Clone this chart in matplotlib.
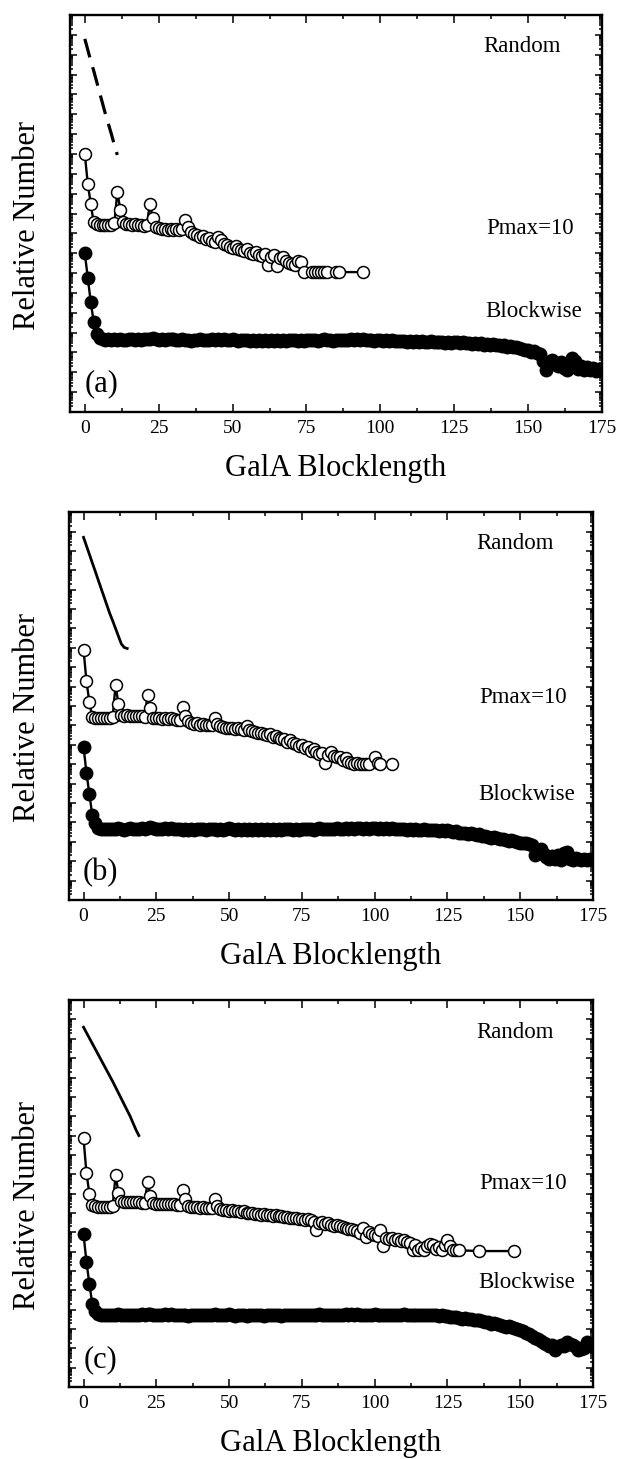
import numpy as np
import matplotlib
matplotlib.use("Agg")
import matplotlib.pyplot as plt
from matplotlib.ticker import LogLocator, MultipleLocator, NullFormatter

plt.rcParams['font.family'] = ['Liberation Serif', 'DejaVu Serif']

# values are log10 of the relative number (axis spans 20 decades, no labels)

# ---- panel (a)
rnd_a_x = [0, 1, 2, 3, 4, 5, 6, 7, 8, 9, 10, 11]
rnd_a_y = [18.8, 18.25, 17.7, 17.2, 16.65, 16.1, 15.55, 15.0, 14.5, 14.0, 13.45, 12.95]

pm_a_x = list(range(0, 75)) + [77, 78, 79, 80, 81, 82, 85, 86, 94]
pm_a_y = [13.0, 11.5, 10.5, 9.55, 9.45, 9.42, 9.40, 9.40, 9.42, 9.40,
          9.50, 11.1, 10.2, 9.55, 9.48, 9.45, 9.42, 9.45, 9.40, 9.42,
          9.38, 9.40, 10.5, 9.75, 9.30, 9.25, 9.20, 9.22, 9.18, 9.20,
          9.15, 9.20, 9.18, 9.20, 9.66, 9.30, 9.05, 8.95, 8.90, 8.80,
          8.85, 8.70, 8.75, 8.60, 8.55, 8.80, 8.65, 8.45, 8.40, 8.30,
          8.25, 8.35, 8.20, 8.15, 8.10, 8.20, 8.00, 7.95, 8.05, 7.90,
          7.85, 7.95, 7.40, 7.80, 7.90, 7.35, 7.75, 7.80, 7.60, 7.50,
          7.45, 7.40, 7.60, 7.56, 7.05,
          7.05, 7.05, 7.05, 7.05, 7.05, 7.05, 7.05, 7.05, 7.05]

blk_x = list(range(0, 176))
blk_a_y = [8.00, 6.76, 5.55, 4.54, 3.95, 3.72, 3.66, 3.62, 3.66, 3.63,
           3.66, 3.64, 3.68, 3.65, 3.62, 3.66, 3.67, 3.64, 3.66, 3.65,
           3.68, 3.66, 3.70, 3.74, 3.68, 3.65, 3.67, 3.63, 3.68, 3.66,
           3.70, 3.65, 3.63, 3.66, 3.61, 3.65, 3.60, 3.64, 3.61, 3.66,
           3.62, 3.65, 3.61, 3.66, 3.63, 3.67, 3.62, 3.66, 3.61, 3.65,
           3.68, 3.63, 3.60, 3.64, 3.61, 3.65, 3.59, 3.63, 3.60, 3.64,
           3.60, 3.62, 3.58, 3.63, 3.60, 3.64, 3.59, 3.62, 3.58, 3.63,
           3.61, 3.64, 3.60, 3.62, 3.59, 3.63, 3.61, 3.65, 3.62, 3.60,
           3.63, 3.66, 3.62, 3.64, 3.60, 3.63, 3.61, 3.65, 3.62, 3.64,
           3.66, 3.63, 3.68, 3.64, 3.70, 3.65, 3.62, 3.64, 3.60, 3.63,
           3.61, 3.60, 3.63, 3.58, 3.61, 3.57, 3.60, 3.56, 3.59, 3.55,
           3.58, 3.54, 3.57, 3.53, 3.58, 3.55, 3.52, 3.56, 3.53, 3.55,
           3.52, 3.55, 3.50, 3.54, 3.49, 3.52, 3.55, 3.50, 3.53, 3.48,
           3.50, 3.45, 3.48, 3.43, 3.46, 3.40, 3.44, 3.38, 3.42, 3.36,
           3.38, 3.33, 3.36, 3.30, 3.33, 3.26, 3.30, 3.22, 3.18, 3.12,
           3.10, 3.02, 3.06, 2.95, 2.90, 2.55, 2.12, 2.35, 2.60, 2.45,
           2.30, 2.50, 2.20, 2.10, 2.40, 2.70, 2.55, 2.15, 2.30, 2.10,
           2.25, 2.10, 2.20, 2.05, 2.15, 2.10]

# ---- panel (b)
rnd_b_x = [0, 1, 2, 3, 4, 5, 6, 7, 8, 9, 10, 11, 12, 13, 14, 15]
rnd_b_y = [18.7, 18.26, 17.83, 17.39, 16.96, 16.52, 16.08, 15.65, 15.21, 14.78,
           14.4, 14.0, 13.6, 13.2, 13.02, 12.97]

pm_b_x = list(range(0, 99)) + [100, 101, 102, 106]
pm_b_y = [12.9, 11.3, 10.2, 9.45, 9.40, 9.38, 9.40, 9.37, 9.36, 9.38,
          9.42, 11.1, 10.1, 9.55, 9.50, 9.52, 9.48, 9.50, 9.47, 9.50,
          9.48, 9.45, 10.57, 9.90, 9.40, 9.38, 9.36, 9.35, 9.38, 9.34,
          9.36, 9.33, 9.30, 9.28, 9.97, 9.50, 9.25, 9.15, 9.10, 9.12,
          9.05, 9.10, 9.02, 9.05, 9.00, 9.36, 9.10, 8.95, 8.90, 8.88,
          8.85, 8.86, 8.82, 8.85, 8.80, 8.78, 8.95, 8.75, 8.70, 8.65,
          8.60, 8.62, 8.55, 8.50, 8.55, 8.40, 8.45, 8.35, 8.30, 8.32,
          8.15, 8.25, 8.10, 8.05, 7.95, 8.00, 7.85, 7.90, 7.70, 7.80,
          7.65, 7.55, 7.60, 7.04, 7.50, 7.65, 7.45, 7.35, 7.40, 7.20,
          7.30, 7.10, 7.05, 7.00, 7.05, 7.00, 7.00, 7.02, 7.00,
          7.40, 7.05, 7.00, 7.00]

blk_b_y = [7.90, 6.56, 5.46, 4.38, 3.95, 3.74, 3.68, 3.64, 3.67, 3.65,
           3.68, 3.66, 3.70, 3.66, 3.63, 3.67, 3.69, 3.65, 3.67, 3.66,
           3.69, 3.67, 3.72, 3.75, 3.69, 3.66, 3.68, 3.64, 3.69, 3.67,
           3.71, 3.66, 3.64, 3.67, 3.63, 3.66, 3.62, 3.65, 3.63, 3.67,
           3.64, 3.66, 3.62, 3.67, 3.64, 3.68, 3.63, 3.67, 3.62, 3.66,
           3.69, 3.64, 3.62, 3.66, 3.63, 3.66, 3.61, 3.65, 3.62, 3.66,
           3.63, 3.65, 3.61, 3.66, 3.63, 3.67, 3.62, 3.65, 3.61, 3.66,
           3.64, 3.67, 3.63, 3.65, 3.62, 3.66, 3.64, 3.68, 3.65, 3.63,
           3.66, 3.69, 3.65, 3.67, 3.64, 3.67, 3.65, 3.69, 3.66, 3.68,
           3.70, 3.67, 3.72, 3.68, 3.74, 3.69, 3.67, 3.70, 3.66, 3.69,
           3.72, 3.68, 3.71, 3.67, 3.70, 3.66, 3.69, 3.65, 3.68, 3.64,
           3.67, 3.63, 3.66, 3.62, 3.66, 3.63, 3.60, 3.64, 3.61, 3.63,
           3.60, 3.62, 3.58, 3.61, 3.57, 3.60, 3.56, 3.52, 3.54, 3.48,
           3.45, 3.47, 3.42, 3.44, 3.38, 3.35, 3.38, 3.32, 3.30, 3.26,
           3.22, 3.25, 3.18, 3.14, 3.16, 3.10, 3.06, 3.08, 3.02, 2.98,
           2.95, 2.92, 2.96, 2.90, 2.85, 2.30, 2.55, 2.62, 2.40, 2.20,
           2.10, 2.25, 2.12, 2.30, 2.08, 2.45, 2.50, 2.10, 2.05, 2.15,
           2.10, 2.05, 2.12, 2.08, 2.10, 2.10]

# ---- panel (c)
rnd_c_x = [0, 1, 2, 3, 4, 5, 6, 7, 8, 9, 10, 11, 12, 13, 14, 15, 16, 17, 18, 19]
rnd_c_y = [18.6, 18.32, 18.04, 17.76, 17.48, 17.2, 16.92, 16.64, 16.36, 16.08,
           15.8, 15.5, 15.2, 14.9, 14.6, 14.3, 14.0, 13.65, 13.3, 13.0]

pm_c_x = list(range(0, 130)) + [136, 148]
pm_c_y = [12.85, 11.07, 10.0, 9.40, 9.34, 9.32, 9.33, 9.30, 9.32, 9.30,
          9.35, 10.95, 10.05, 9.60, 9.55, 9.57, 9.56, 9.58, 9.55, 9.57,
          9.54, 9.52, 10.6, 9.90, 9.50, 9.48, 9.47, 9.46, 9.48, 9.45,
          9.46, 9.44, 9.42, 9.40, 10.17, 9.74, 9.35, 9.32, 9.30, 9.30,
          9.28, 9.30, 9.27, 9.28, 9.26, 9.70, 9.35, 9.20, 9.15, 9.16,
          9.12, 9.14, 9.10, 9.08, 9.05, 9.10, 9.02, 8.98, 9.00, 8.95,
          8.97, 8.92, 8.95, 8.88, 8.90, 8.85, 8.88, 8.82, 8.84, 8.78,
          8.80, 8.75, 8.72, 8.75, 8.68, 8.70, 8.65, 8.68, 8.62, 8.55,
          8.10, 8.50, 8.55, 8.45, 8.50, 8.40, 8.35, 8.38, 8.30, 8.25,
          8.20, 8.15, 8.18, 8.10, 8.05, 7.95, 8.20, 7.76, 8.00, 7.90,
          7.85, 7.80, 8.14, 7.28, 7.70, 7.65, 7.70, 7.60, 7.65, 7.55,
          7.60, 7.50, 7.45, 7.07, 7.35, 7.07, 7.20, 7.07, 7.30, 7.40,
          7.35, 7.15, 7.25, 7.07, 7.35, 7.60, 7.30, 7.07, 7.07, 7.07,
          7.03, 7.03]

blk_c_y = [7.90, 6.47, 5.34, 4.31, 3.93, 3.78, 3.72, 3.70, 3.73, 3.71,
           3.74, 3.72, 3.76, 3.73, 3.70, 3.74, 3.75, 3.72, 3.74, 3.73,
           3.76, 3.74, 3.78, 3.80, 3.75, 3.73, 3.75, 3.71, 3.76, 3.74,
           3.77, 3.73, 3.71, 3.74, 3.70, 3.73, 3.69, 3.72, 3.70, 3.74,
           3.71, 3.73, 3.70, 3.74, 3.72, 3.76, 3.71, 3.74, 3.70, 3.73,
           3.76, 3.72, 3.69, 3.73, 3.70, 3.74, 3.69, 3.72, 3.70, 3.73,
           3.71, 3.73, 3.69, 3.73, 3.71, 3.74, 3.70, 3.72, 3.69, 3.73,
           3.71, 3.74, 3.70, 3.72, 3.70, 3.73, 3.71, 3.75, 3.72, 3.70,
           3.73, 3.76, 3.72, 3.74, 3.71, 3.74, 3.72, 3.75, 3.73, 3.74,
           3.76, 3.73, 3.77, 3.74, 3.78, 3.75, 3.72, 3.74, 3.71, 3.74,
           3.76, 3.73, 3.75, 3.72, 3.74, 3.71, 3.74, 3.72, 3.75, 3.73,
           3.76, 3.72, 3.74, 3.71, 3.75, 3.72, 3.70, 3.74, 3.71, 3.73,
           3.72, 3.70, 3.68, 3.70, 3.66, 3.67, 3.64, 3.62, 3.60, 3.56,
           3.53, 3.55, 3.50, 3.52, 3.47, 3.45, 3.46, 3.42, 3.38, 3.36,
           3.28, 3.30, 3.25, 3.22, 3.18, 3.12, 3.14, 3.08, 3.04, 3.00,
           2.93, 2.88, 2.80, 2.74, 2.66, 2.55, 2.48, 2.40, 2.30, 2.22,
           2.10, 2.15, 1.90, 2.05, 2.20, 2.12, 2.35, 2.25, 2.15, 2.08,
           1.90, 1.95, 2.00, 2.33, 2.20, 2.10]

tags = ['(a)', '(b)', '(c)']
label_y = [[18.4, 9.24, 5.04], [18.4, 10.46, 5.46], [18.35, 10.5, 5.4]]

fig = plt.figure(figsize=(6.17, 14.59), dpi=100)
ax_a = fig.add_axes([0.1135, 0.7176, 0.8622, 0.2721])
ax_b = fig.add_axes([0.1118, 0.3831, 0.8493, 0.2659])
ax_c = fig.add_axes([0.1118, 0.0493, 0.8493, 0.2652])

panels = [
    (ax_a, rnd_a_x, rnd_a_y, True, pm_a_x, pm_a_y, blk_a_y),
    (ax_b, rnd_b_x, rnd_b_y, False, pm_b_x, pm_b_y, blk_b_y),
    (ax_c, rnd_c_x, rnd_c_y, False, pm_c_x, pm_c_y, blk_c_y),
]

for i, (ax, rx, ry, dashed, px, py, by) in enumerate(panels):
    if dashed:
        ax.plot(rx, 10.0 ** np.array(ry), color='k', lw=2.3, linestyle=(0, (6, 3.2)))
    else:
        ax.plot(rx, 10.0 ** np.array(ry), color='k', lw=2.0)
    ax.plot(px, 10.0 ** np.array(py), '-o', color='k', lw=1.7, ms=8.6,
            mfc='white', mec='k', mew=1.1)
    ax.plot(blk_x, 10.0 ** np.array(by), '-o', color='k', lw=1.7, ms=9,
            mfc='k', mec='k')

    ax.set_yscale('log')
    ax.set_ylim(1, 1e20)
    ax.set_xlim(-5, 175)
    ax.yaxis.set_major_locator(LogLocator(base=10, numticks=60))
    ax.yaxis.set_minor_locator(LogLocator(base=10, subs=np.arange(2, 10), numticks=60))
    ax.yaxis.set_major_formatter(NullFormatter())
    ax.yaxis.set_minor_formatter(NullFormatter())
    ax.xaxis.set_major_locator(MultipleLocator(25))
    ax.xaxis.set_minor_locator(MultipleLocator(12.5))

    ax.tick_params(which='both', direction='in', top=True, right=True,
                   width=1.1, labelsize=14, pad=6)
    ax.tick_params(axis='x', which='major', length=6)
    ax.tick_params(axis='x', which='minor', length=3)
    ax.tick_params(axis='y', which='major', length=5)
    ax.tick_params(axis='y', which='minor', length=2.5)
    for s in ax.spines.values():
        s.set_linewidth(1.7)

    ax.set_xlabel('GalA Blocklength', fontsize=22, labelpad=12)
    ax.set_ylabel('Relative Number', fontsize=22)
    ax.yaxis.set_label_coords(-0.052, 0.47)

    ly = label_y[i]
    ax.text(135, 10 ** ly[0], 'Random', fontsize=16.5, ha='left', va='center')
    ax.text(136, 10 ** ly[1], 'Pmax=10', fontsize=16.5, ha='left', va='center')
    ax.text(135.5, 10 ** ly[2], 'Blockwise', fontsize=16.5, ha='left', va='center')
    ax.text(5.8, 10 ** 1.42, tags[i], fontsize=22, ha='center', va='center')

fig.savefig('out.png', dpi=100)
